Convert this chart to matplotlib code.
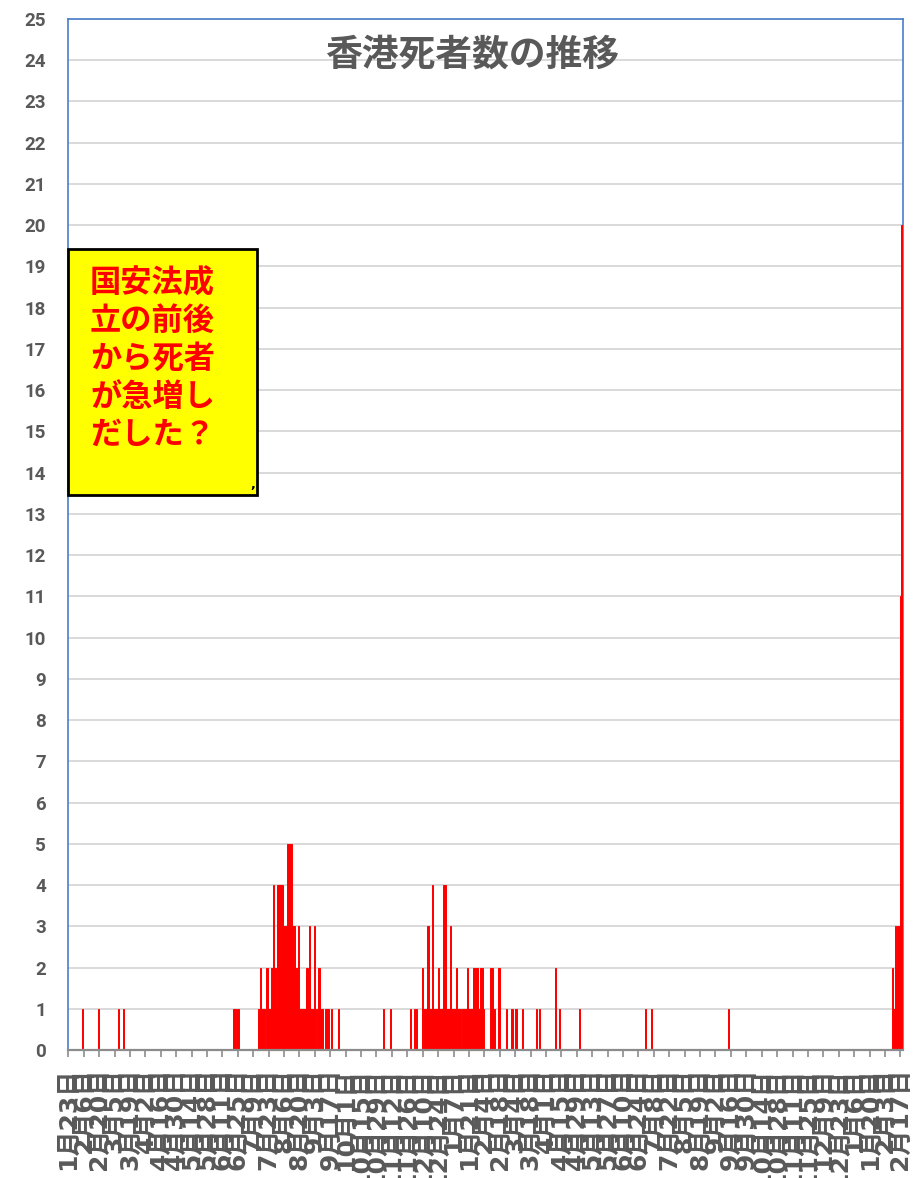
import matplotlib
matplotlib.use("Agg")
import matplotlib.pyplot as plt
import matplotlib.patches as patches
import pandas as pd
import numpy as np

# ---------------- data ----------------
start_date = "2020-01-23"
end_date = "2022-02-18"
tick_step_days = 14

# dates with at least one death (each line of dates matches the same line of deaths)
death_dates = [
    "2020-02-04", "2020-02-19", "2020-03-08", "2020-03-13",
    "2020-06-21", "2020-06-22", "2020-06-24", "2020-06-25",
    "2020-07-13", "2020-07-14", "2020-07-15", "2020-07-16", "2020-07-17", "2020-07-18", "2020-07-19",
    "2020-07-21", "2020-07-22", "2020-07-23", "2020-07-24", "2020-07-25", "2020-07-26", "2020-07-27",
    "2020-07-28", "2020-07-29", "2020-07-30", "2020-07-31",
    "2020-08-01", "2020-08-02", "2020-08-03", "2020-08-04", "2020-08-05", "2020-08-06", "2020-08-07",
    "2020-08-08", "2020-08-09", "2020-08-10", "2020-08-11", "2020-08-12", "2020-08-13", "2020-08-14",
    "2020-08-15", "2020-08-16", "2020-08-17", "2020-08-18", "2020-08-19", "2020-08-20", "2020-08-21",
    "2020-08-22", "2020-08-23", "2020-08-24", "2020-08-25", "2020-08-26", "2020-08-27", "2020-08-28",
    "2020-08-29", "2020-08-30", "2020-08-31",
    "2020-09-01", "2020-09-02", "2020-09-03", "2020-09-05", "2020-09-06", "2020-09-07", "2020-09-08",
    "2020-09-09", "2020-09-12", "2020-09-13", "2020-09-14", "2020-09-15", "2020-09-18", "2020-09-24",
    "2020-11-04", "2020-11-10", "2020-11-28",
    "2020-12-02", "2020-12-04", "2020-12-09", "2020-12-10", "2020-12-11", "2020-12-12", "2020-12-13",
    "2020-12-14", "2020-12-15", "2020-12-16", "2020-12-17", "2020-12-18", "2020-12-19", "2020-12-20",
    "2020-12-21", "2020-12-22", "2020-12-23", "2020-12-24", "2020-12-25", "2020-12-26", "2020-12-27",
    "2020-12-28", "2020-12-29", "2020-12-30", "2020-12-31",
    "2021-01-01", "2021-01-02", "2021-01-03", "2021-01-04", "2021-01-05", "2021-01-06", "2021-01-07",
    "2021-01-08", "2021-01-09", "2021-01-10", "2021-01-11", "2021-01-12", "2021-01-13",
    "2021-01-15", "2021-01-16", "2021-01-17", "2021-01-18", "2021-01-19", "2021-01-20", "2021-01-21",
    "2021-01-22", "2021-01-23", "2021-01-24", "2021-01-25", "2021-01-26", "2021-01-27", "2021-01-28",
    "2021-01-29", "2021-01-30", "2021-01-31",
    "2021-02-01", "2021-02-02", "2021-02-03", "2021-02-09", "2021-02-10", "2021-02-11", "2021-02-12",
    "2021-02-13", "2021-02-16", "2021-02-17", "2021-02-24", "2021-02-28",
    "2021-03-01", "2021-03-04", "2021-03-05", "2021-03-10", "2021-03-23", "2021-03-26",
    "2021-04-09", "2021-04-13", "2021-05-01", "2021-06-30", "2021-07-05", "2021-09-13",
    "2022-02-09", "2022-02-10", "2022-02-11", "2022-02-12", "2022-02-13", "2022-02-14", "2022-02-15",
    "2022-02-16", "2022-02-17", "2022-02-18",
]
deaths = [
    1, 1, 1, 1,
    1, 1, 1, 1,
    1, 1, 2, 1, 1, 1, 1,
    2, 1, 1, 1, 2, 2, 4,
    2, 2, 1, 4,
    4, 4, 4, 4, 3, 3, 3,
    3, 5, 5, 5, 5, 3, 3,
    3, 2, 2, 2, 3, 1, 1,
    1, 1, 1, 1, 2, 2, 1,
    3, 1, 1,
    1, 3, 1, 1, 2, 2, 1,
    1, 1, 1, 1, 1, 1, 1,
    1, 1, 1,
    1, 1, 2, 1, 1, 1, 1,
    3, 3, 1, 1, 4, 1, 1,
    1, 1, 1, 2, 1, 1, 1,
    4, 4, 4, 1,
    1, 1, 1, 3, 1, 1, 1,
    1, 2, 1, 1, 1, 1,
    1, 1, 1, 1, 2, 1, 1,
    1, 1, 1, 2, 2, 2, 2,
    1, 1, 2,
    2, 2, 1, 2, 2, 2, 1,
    1, 2, 2, 1, 1,
    1, 1, 1, 1, 1, 1,
    2, 1, 1, 1, 1, 1,
    2, 1, 1, 3, 2, 3, 3,
    3, 11, 20,
]

title_text = "香港死者数の推移"
note_lines = ["国安法成", "立の前後", "から死者", "が急増し", "だした？"]

# ---------------- build daily series ----------------
t0 = pd.Timestamp(start_date)
t1 = pd.Timestamp(end_date)
n_days = (t1 - t0).days + 1
daily = pd.Series(0, index=pd.date_range(t0, t1, freq="D"))
for ds, v in zip(death_dates, deaths):
    daily[pd.Timestamp(ds)] = v
xpos = np.arange(n_days)

tick_dates = pd.date_range(t0, t1, freq=f"{tick_step_days}D")
tick_pos = [(d - t0).days for d in tick_dates]
tick_labels = [f"{d.month}月{d.day}日" for d in tick_dates]

# ---------------- figure ----------------
W, H = 914, 1178
fig = plt.figure(figsize=(W / 100, H / 100), dpi=100)
fig.patch.set_facecolor("white")

ax_l, ax_r, ax_b, ax_t = 68.3, 902.6, 1050, 19
ax = fig.add_axes([ax_l / W, 1 - ax_b / H, (ax_r - ax_l) / W, (ax_b - ax_t) / H])

ax.bar(xpos, daily.values, width=1.0, align="edge", color="#FF0000",
       edgecolor="#FF0000", linewidth=0.7, zorder=3)

ax.set_xlim(0, n_days)
ax.set_ylim(0, 25)
ax.set_yticks(range(0, 26))
ax.yaxis.grid(True, color="#D9D9D9", linewidth=1.4, zorder=0)
ax.set_axisbelow(True)

gray = "#595959"
for lbl in ax.set_yticklabels([str(i) for i in range(26)]):
    lbl.set_fontfamily(["Roboto", "DejaVu Sans"])
    lbl.set_fontweight("bold")
    lbl.set_fontsize(13.5)
    lbl.set_color(gray)
ax.tick_params(axis="y", length=0, pad=16)

ax.set_xticks(tick_pos)
ax.set_xticklabels(tick_labels, rotation=90, ha="center", va="top",
                   fontsize=18, fontweight="bold", color=gray,
                   family=["DejaVu Sans", "Noto Sans CJK JP"])
ax.tick_params(axis="x", direction="out", length=5, width=1.2, color="#8C8C8C", pad=8)

for side in ("left", "top", "right"):
    ax.spines[side].set_color("#4A7EC9")
    ax.spines[side].set_linewidth(1.2)
ax.spines["bottom"].set_color("#8C8C8C")
ax.spines["bottom"].set_linewidth(1.6)
ax.spines["bottom"].set_zorder(4)

# title
fig.text(472 / W, 1 - 55 / H, title_text, ha="center", va="center",
         fontsize=26.5, fontweight="bold", color=gray,
         family=["Noto Sans CJK JP", "DejaVu Sans"])

# yellow annotation box
bx0, by0, bx1, by1 = 68, 249, 257, 495
rect = patches.Rectangle((bx0 / W, 1 - by1 / H), (bx1 - bx0) / W, (by1 - by0) / H,
                         transform=fig.transFigure, facecolor="#FFFF00",
                         edgecolor="black", linewidth=2.0, zorder=10)
fig.patches.append(rect)
line_y = [283, 321, 359, 397, 435]
for txt, yy in zip(note_lines, line_y):
    fig.text(90 / W, 1 - yy / H, txt, ha="left", va="center", fontsize=22.5,
             fontweight="bold", color="#FF0000",
             family=["Noto Sans CJK JP", "DejaVu Sans"], zorder=11)
fig.text(253 / W, 1 - 484 / H, ",", ha="center", va="center", fontsize=9,
         fontweight="bold", color="black", zorder=11)

fig.savefig("out.png", dpi=100, facecolor="white")
